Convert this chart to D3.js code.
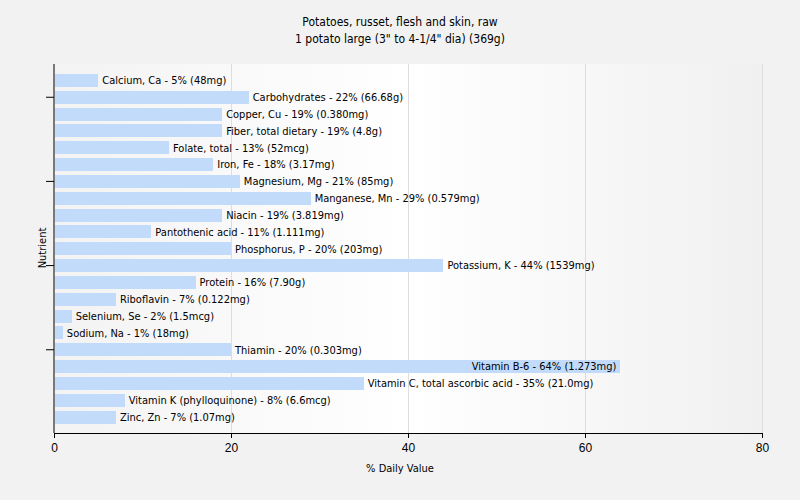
<!DOCTYPE html>
<html><head><meta charset="utf-8">
<script src="https://cdn.jsdelivr.net/npm/d3@7"></script>
<style>body{margin:0;background:#f2f2f2;}svg{display:block;font-family:Tahoma,"DejaVu Sans Condensed","Liberation Sans",sans-serif;}</style>
</head><body><svg id="c" width="800" height="500"></svg>
<script>
const titleLines = ["Potatoes, russet, flesh and skin, raw", "1 potato large (3\" to 4-1/4\" dia) (369g)"];
const nutrients = ["Calcium, Ca","Carbohydrates","Copper, Cu","Fiber, total dietary","Folate, total","Iron, Fe","Magnesium, Mg","Manganese, Mn","Niacin","Pantothenic acid","Phosphorus, P","Potassium, K","Protein","Riboflavin","Selenium, Se","Sodium, Na","Thiamin","Vitamin B-6","Vitamin C, total ascorbic acid","Vitamin K (phylloquinone)","Zinc, Zn"];
const percents = [5,22,19,19,13,18,21,29,19,11,20,44,16,7,2,1,20,64,35,8,7];
const amounts = ["48mg","66.68g","0.380mg","4.8g","52mcg","3.17mg","85mg","0.579mg","3.819mg","1.111mg","203mg","1539mg","7.90g","0.122mg","1.5mcg","18mg","0.303mg","1.273mg","21.0mg","6.6mcg","1.07mg"];
const xTicks = [0,20,40,60,80];
const yTickIdx = [1,6,11,16];

const svg = d3.select("#c");
const L=54, R=762, T=64, B=433;
const x = d3.scaleLinear().domain([0,80]).range([L,R]);
const y = d3.scaleBand().domain(nutrients).range([72,425.5]).paddingInner(0.22).paddingOuter(0.11);

const defs = svg.append("defs");
const g = defs.append("linearGradient").attr("id","bg").attr("x1","0").attr("x2","1").attr("y1","0").attr("y2","0");
g.append("stop").attr("offset","0").attr("stop-color","#f3f3f3");
g.append("stop").attr("offset","0.5").attr("stop-color","#ffffff");
g.append("stop").attr("offset","1").attr("stop-color","#f0f0f0");
svg.append("rect").attr("x",L).attr("y",T).attr("width",R-L).attr("height",B-T).attr("fill","url(#bg)");

svg.append("g").selectAll("line").data(xTicks.slice(1)).join("line")
  .attr("x1",d=>x(d)).attr("x2",d=>x(d)).attr("y1",T).attr("y2",B)
  .attr("stroke","#dddddd").attr("stroke-width",1).attr("shape-rendering","crispEdges");

svg.append("g").selectAll("rect").data(nutrients).join("rect")
  .attr("x",x(0)+1).attr("y",d=>y(d)).attr("width",(d,i)=>x(percents[i])-x(0)-1).attr("height",y.bandwidth())
  .attr("fill","#c2dbfa").attr("shape-rendering","crispEdges");

svg.append("g").selectAll("text").data(nutrients).join("text")
  .attr("x",(d,i)=> percents[i]>50 ? x(percents[i])-4 : x(percents[i])+4)
  .attr("text-anchor",(d,i)=> percents[i]>50 ? "end" : "start")
  .attr("y",d=>y(d)+y.bandwidth()/2).attr("dy","0.35em")
  .attr("font-size",11).attr("fill","#000")
  .text((d,i)=>`${d} - ${percents[i]}% (${amounts[i]})`);

const xa = svg.append("g").attr("transform",`translate(0,${B})`)
  .call(d3.axisBottom(x).tickValues(xTicks).tickSize(5).tickSizeOuter(0));
xa.select(".domain").attr("stroke","#000");
xa.selectAll("text").attr("font-size",12).attr("font-family","inherit").attr("fill","#000").attr("dy","0.9em");

const ya = svg.append("g").attr("transform",`translate(${L},0)`)
  .call(d3.axisLeft(y).tickValues(yTickIdx.map(i=>nutrients[i])).tickSize(8).tickFormat(""));
ya.select(".domain").attr("d",`M0,${T}V${B}`).attr("stroke","#000");

svg.append("text").attr("x",400).attr("y",472).attr("text-anchor","middle").attr("font-size",11).text("% Daily Value");
svg.append("text").attr("transform","translate(46,248) rotate(-90)").attr("text-anchor","middle").attr("font-size",11).text("Nutrient");
svg.append("g").selectAll("text").data(titleLines).join("text")
  .attr("x",400).attr("y",(d,i)=>26+i*17).attr("text-anchor","middle").attr("font-size",12).text(d=>d);
</script></body></html>
